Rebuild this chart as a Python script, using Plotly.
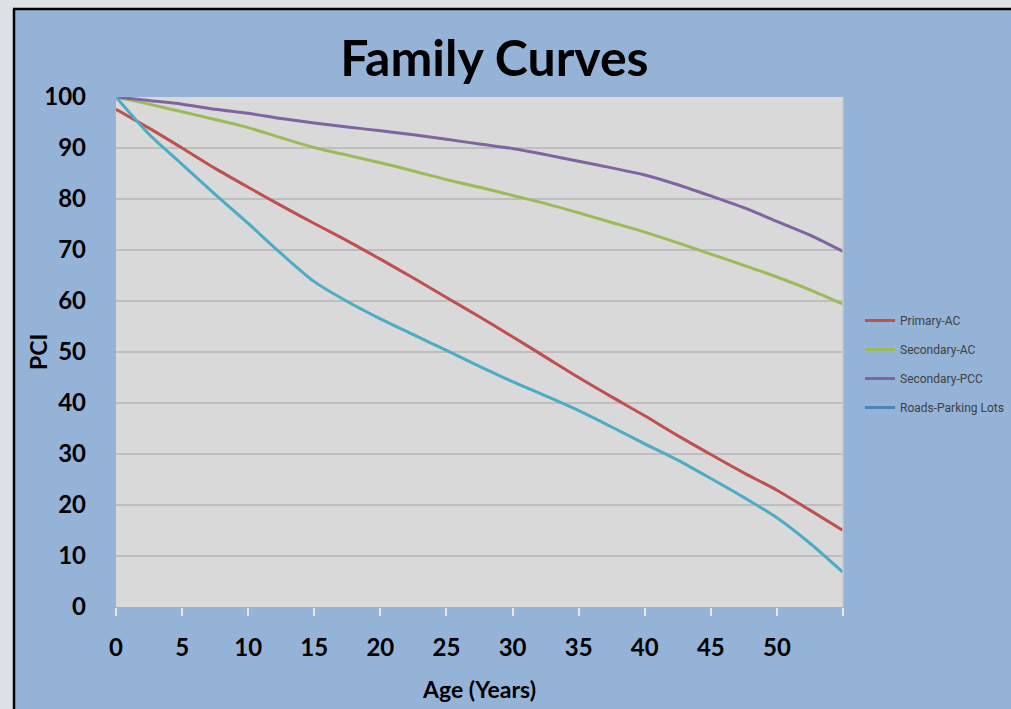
import plotly.graph_objects as go

# ---- data ----
ages = [0, 2.5, 5, 7.5, 10, 12.5, 15, 17.5, 20, 22.5, 25, 27.5, 30,
        32.5, 35, 37.5, 40, 42.5, 45, 47.5, 50, 52.5, 55]
primary_ac = [97.6, 93.9, 90.0, 86.0, 82.3, 78.7, 75.2, 71.8, 68.2, 64.5, 60.7, 56.9, 53.0,
              49.0, 45.0, 41.2, 37.5, 33.6, 29.9, 26.3, 22.9, 19.0, 15.0]
secondary_ac = [100, 98.6, 97.1, 95.6, 94.0, 92.0, 90.1, 88.6, 87.1, 85.5, 83.8, 82.3, 80.7,
                79.1, 77.3, 75.4, 73.5, 71.4, 69.2, 67.0, 64.7, 62.2, 59.4]
secondary_pcc = [100, 99.3, 98.6, 97.6, 96.8, 95.8, 94.9, 94.1, 93.4, 92.6, 91.7, 90.8, 89.9,
                 88.7, 87.4, 86.1, 84.7, 82.8, 80.6, 78.3, 75.6, 72.9, 69.7]
roads_parking = [100, 92.7, 86.8, 80.9, 75.2, 69.3, 63.8, 59.9, 56.5, 53.4, 50.3, 47.2, 44.2,
                 41.4, 38.5, 35.3, 32.0, 28.8, 25.2, 21.5, 17.5, 12.5, 6.8]

series_names = ["Primary-AC", "Secondary-AC", "Secondary-PCC", "Roads-Parking Lots"]
x_tickvals = [0, 5, 10, 15, 20, 25, 30, 35, 40, 45, 50, 55]
x_ticktext = ["0", "5", "10", "15", "20", "25", "30", "35", "40", "45", "50", ""]
y_tickvals = [0, 10, 20, 30, 40, 50, 60, 70, 80, 90, 100]

# ---- styling ----
W, H = 1011, 709
L, R, T, B = 116, 168, 97, 102
PW, PH = W - L - R, H - T - B
BLUE_BG = "#95B3D7"
FONT = "Lato"


def px_x(px):
    return (px - L) / PW


def px_y(py):
    return (H - B - py) / PH


fig = go.Figure()
line_colors = ["#C0504D", "#9BBB59", "#8064A2", "#4BACC6"]
values = [primary_ac, secondary_ac, secondary_pcc, roads_parking]
for i, (name, vals, col) in enumerate(zip(series_names, values, line_colors)):
    fig.add_trace(go.Scatter(
        x=ages, y=vals, mode="lines", name=name,
        line=dict(color=col, width=3, shape="spline", smoothing=0.8),
        showlegend=(i < 3), legendgroup=name, hoverinfo="skip",
    ))
# legend entry for the last series (the original legend shows it in blue)
fig.add_trace(go.Scatter(
    x=[None], y=[None], mode="lines", name=series_names[3],
    line=dict(color="#4F81BD", width=3), legendgroup=series_names[3],
))

shapes = [
    # outer light strips and black frame
    dict(type="rect", xref="paper", yref="paper", x0=px_x(-5), x1=px_x(13),
         y0=px_y(H + 5), y1=px_y(-5), fillcolor="#DDE2E7", line_width=0, layer="below"),
    dict(type="rect", xref="paper", yref="paper", x0=px_x(-5), x1=px_x(W + 5),
         y0=px_y(8), y1=px_y(-5), fillcolor="#DDE2E7", line_width=0, layer="below"),
    dict(type="line", xref="paper", yref="paper", x0=px_x(14), x1=px_x(14),
         y0=px_y(H + 5), y1=px_y(9), line=dict(color="#000000", width=2.5)),
    dict(type="line", xref="paper", yref="paper", x0=px_x(13), x1=px_x(W + 5),
         y0=px_y(9), y1=px_y(9), line=dict(color="#000000", width=2.5)),
    # plot-area right border
    dict(type="line", xref="paper", yref="paper", x0=1, x1=1, y0=0, y1=1,
         line=dict(color="#C8C8C8", width=1.5)),
]

fig.update_layout(
    width=W, height=H,
    margin=dict(l=L, r=R, t=T, b=B, pad=0, autoexpand=False),
    paper_bgcolor=BLUE_BG, plot_bgcolor="#D9D9D9",
    font=dict(family=FONT, color="#000000"),
    title=dict(text="<b>Family Curves</b>", x=0.489, xref="container", xanchor="center",
               y=1 - 58 / H, yref="container", yanchor="middle",
               font=dict(size=50, family=FONT, color="#000000")),
    xaxis=dict(range=[0, 55], tickvals=x_tickvals, ticktext=x_ticktext,
               ticks="outside", ticklen=8, tickwidth=1.5, tickcolor="#E6E6E6",
               showgrid=False, zeroline=False, showline=False, automargin=False,
               tickfont=dict(size=24, family=FONT, color="#000000", weight="bold"),
               ticklabelstandoff=11,
               title=dict(text="<b>Age (Years)</b>", standoff=22,
                          font=dict(size=23, family=FONT, color="#000000"))),
    yaxis=dict(range=[0, 100], tickvals=y_tickvals, automargin=False,
               ticks="", showgrid=True, gridcolor="#BEBEBE", gridwidth=1.5,
               zeroline=False, showline=False,
               tickfont=dict(size=24, family=FONT, color="#000000", weight="bold"),
               ticklabelstandoff=29),
    legend=dict(x=px_x(860), y=px_y(306), xanchor="left", yanchor="top",
                bgcolor="rgba(0,0,0,0)", traceorder="grouped", tracegroupgap=10,
                itemwidth=30,
                font=dict(size=12, family="Liberation Sans Narrow, Roboto", color="#404040")),
    shapes=shapes,
    annotations=[dict(text="<b>PCI</b>", textangle=-90, xref="paper", yref="paper",
                      x=px_x(38), y=px_y(352), xanchor="center", yanchor="middle",
                      showarrow=False, font=dict(size=23, family=FONT, color="#000000"))],
)

fig.write_html("out.html", config={"displayModeBar": False},
               post_script="document.body.style.margin='0';")
